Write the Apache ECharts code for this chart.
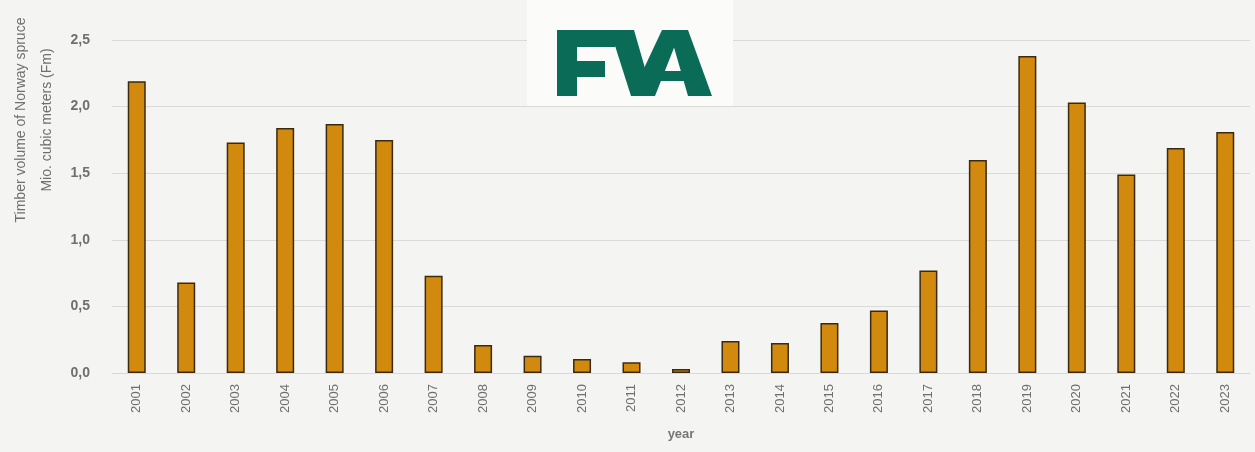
<!DOCTYPE html>
<html>
<head>
<meta charset="utf-8">
<script src="https://cdn.jsdelivr.net/npm/echarts@6/dist/echarts.min.js"></script>
<style>
  html, body { margin: 0; padding: 0; background: #f4f4f2; }
  #chart { width: 1255px; height: 452px; }
</style>
</head>
<body>
<div id="chart"></div>
<script>
// Annual timber volume of Norway spruce (million cubic meters, Fm)
const years = ['2001','2002','2003','2004','2005','2006','2007','2008','2009','2010','2011','2012',
               '2013','2014','2015','2016','2017','2018','2019','2020','2021','2022','2023'];
const volumes = [2.19, 0.68, 1.73, 1.84, 1.87, 1.75, 0.73, 0.21, 0.13, 0.105, 0.08, 0.03,
                 0.24, 0.225, 0.375, 0.47, 0.77, 1.60, 2.38, 2.03, 1.49, 1.69, 1.81];
const yTitleLines = ['Timber volume of Norway spruce', 'Mio. cubic meters (Fm)'];
const xTitle = 'year';

const FONT = '"Liberation Sans", Arial, sans-serif';
const TEXT = '#6f6f6f';
const GREEN = '#0a6b57';

// FVA logo built from simple shapes
const logoRects = [
  [557, 30, 20, 66],
  [557, 30, 58, 17],
  [557, 61, 48, 16]
];
const logoPolys = [
  [[610,30],[634,30],[653,96],[631,96]],
  [[631,96],[655,96],[681,30],[662,30]],
  [[669,30],[688,30],[712,96],[688,96]],
  [[656,81],[691,81],[687,71],[660,71]]
];
const logoParts = logoRects.map(r => ({
  type: 'rect', z: 20, shape: { x: r[0], y: r[1], width: r[2], height: r[3] }, style: { fill: GREEN }
})).concat(logoPolys.map(p => ({
  type: 'polygon', z: 20, shape: { points: p }, style: { fill: GREEN }
})));

const chart = echarts.init(document.getElementById('chart'), null, { renderer: 'canvas' });

chart.setOption({
  backgroundColor: '#f4f4f2',
  animation: false,
  grid: { left: 112, right: 5, top: 40, bottom: 79 },
  xAxis: {
    type: 'category',
    data: years,
    name: xTitle,
    nameLocation: 'middle',
    nameGap: 55,
    nameTextStyle: { color: '#777', fontFamily: FONT, fontSize: 13, fontWeight: 'bold' },
    axisLine: { show: true, lineStyle: { color: '#d9d9d9', width: 1 } },
    axisTick: { show: false },
    axisLabel: { rotate: 90, margin: 11, color: TEXT, fontFamily: FONT, fontSize: 13 }
  },
  yAxis: {
    type: 'value',
    min: 0, max: 2.5, interval: 0.5,
    axisLine: { show: false },
    axisTick: { show: false },
    splitLine: { lineStyle: { color: '#dadada', width: 1 } },
    axisLabel: {
      margin: 22, color: TEXT, fontFamily: FONT, fontSize: 14, fontWeight: 'bold',
      formatter: v => v.toFixed(1).replace('.', ',')
    }
  },
  series: [{
    type: 'bar',
    data: volumes,
    barWidth: 18,
    itemStyle: { color: '#d18a0e', borderColor: '#3a2a12', borderWidth: 1.5 }
  }],
  graphic: [
    // axis title, two rotated lines
    { type: 'text', x: 21, y: 120, rotation: Math.PI / 2, z: 10,
      style: { text: yTitleLines[0], fill: TEXT, font: '14px ' + FONT, textAlign: 'center', textVerticalAlign: 'middle' } },
    { type: 'text', x: 47, y: 120, rotation: Math.PI / 2, z: 10,
      style: { text: yTitleLines[1], fill: TEXT, font: '14px ' + FONT, textAlign: 'center', textVerticalAlign: 'middle' } },
    // logo panel
    { type: 'rect', shape: { x: 527, y: 0, width: 206, height: 106 }, z: 5,
      style: { fill: '#fbfbfa' } }
  ].concat(logoParts)
});
</script>
</body>
</html>
